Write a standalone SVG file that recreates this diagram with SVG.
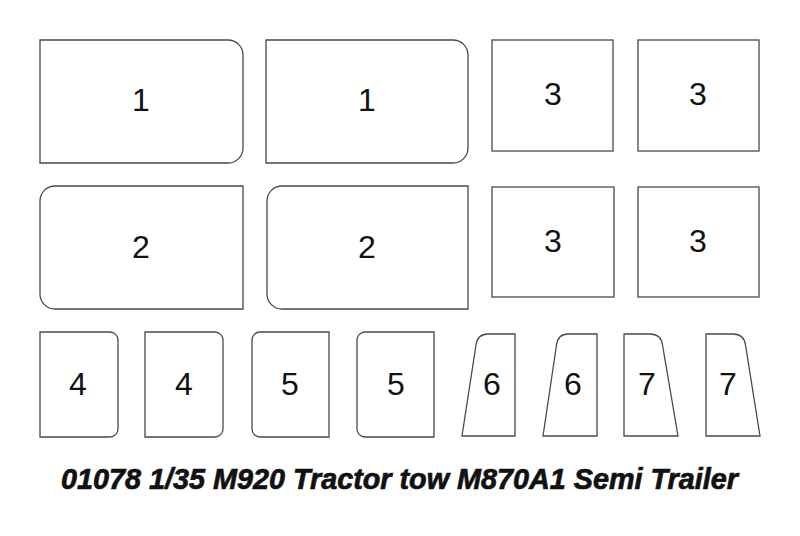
<svg xmlns="http://www.w3.org/2000/svg" width="800" height="536" viewBox="0 0 800 536">
<style>
.p{fill:#fff;stroke:#4a4a4a;stroke-width:1.3}
.n{font-family:"Liberation Sans",Arial,sans-serif;font-size:32px;fill:#111;text-anchor:middle}
.t{font-family:"Liberation Sans",Arial,sans-serif;font-size:29px;font-weight:bold;font-style:italic;fill:#111;stroke:#111;stroke-width:0.7}
</style>
<rect width="800" height="536" fill="#fff"/>
<g id="part1a"><path class="p" d="M40,40 H228 A15,15 0 0 1 243,55 V148 A15,15 0 0 1 228,163 H40 Z"/><text class="n" x="141" y="111">1</text></g>
<g id="part1b"><path class="p" d="M266,40 H453 A15,15 0 0 1 468,55 V148 A15,15 0 0 1 453,163 H266 Z"/><text class="n" x="367" y="111">1</text></g>
<g id="part2a"><path class="p" d="M55,186 H243 V309 H55 A15,15 0 0 1 40,294 V201 A15,15 0 0 1 55,186 Z"/><text class="n" x="141" y="258">2</text></g>
<g id="part2b"><path class="p" d="M282,186 H468 V309 H282 A15,15 0 0 1 267,294 V201 A15,15 0 0 1 282,186 Z"/><text class="n" x="367" y="258">2</text></g>
<g id="part3a"><rect class="p" x="492" y="40" width="121" height="111"/><text class="n" x="553" y="105">3</text></g>
<g id="part3b"><rect class="p" x="638" y="40" width="121" height="111"/><text class="n" x="698" y="105">3</text></g>
<g id="part3c"><rect class="p" x="492" y="187" width="122" height="110"/><text class="n" x="553" y="252">3</text></g>
<g id="part3d"><rect class="p" x="638" y="187" width="121" height="110"/><text class="n" x="698" y="252">3</text></g>
<g id="part4a"><path class="p" d="M40,332 H110 A8,8 0 0 1 118,340 V429 A8,8 0 0 1 110,437 H40 Z"/><text class="n" x="78" y="395">4</text></g>
<g id="part4b"><path class="p" d="M145,332 H215 A8,8 0 0 1 223,340 V429 A8,8 0 0 1 215,437 H145 Z"/><text class="n" x="184" y="395">4</text></g>
<g id="part5a"><path class="p" d="M260,332 H329 V437 H260 A8,8 0 0 1 252,429 V340 A8,8 0 0 1 260,332 Z"/><text class="n" x="290" y="395">5</text></g>
<g id="part5b"><path class="p" d="M365,332 H434 V437 H365 A8,8 0 0 1 357,429 V340 A8,8 0 0 1 365,332 Z"/><text class="n" x="396" y="395">5</text></g>
<g id="part6a"><path class="p" d="M462,436 L476,345 Q477.5,334 488,334 L515,334 L515,436 Z"/><text class="n" x="492" y="395">6</text></g>
<g id="part6b"><path class="p" d="M543,436 L556.5,345 Q558,334 568,334 L597,334 L597,436 Z"/><text class="n" x="573" y="395">6</text></g>
<g id="part7a"><path class="p" d="M624,436 L624,334 L650,334 Q661,334 662.5,345 L678,436 Z"/><text class="n" x="647" y="395">7</text></g>
<g id="part7b"><path class="p" d="M706,436 L706,334 L733,334 Q744,334 745.5,345 L760,436 Z"/><text class="n" x="728" y="395">7</text></g>
<g id="connectors"></g>
<text class="t" x="61" y="489" textLength="677" lengthAdjust="spacingAndGlyphs">01078 1/35 M920 Tractor tow M870A1 Semi Trailer</text>
</svg>
